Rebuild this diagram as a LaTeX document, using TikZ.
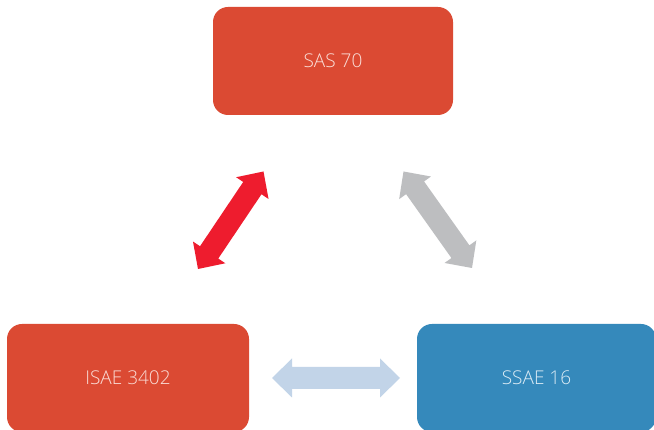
\documentclass[tikz,border=0pt]{standalone}
\usepackage{fontspec}
\IfFontExistsTF{Open Sans Light}{\setmainfont{Open Sans Light}}{\setmainfont{Open Sans}}
\usetikzlibrary{calc}
\definecolor{boxred}{HTML}{DB4A33}
\definecolor{boxblue}{HTML}{3589BB}
\definecolor{txtred}{HTML}{FADCD6}
\definecolor{txtblue}{HTML}{DCECF5}
\definecolor{arrred}{HTML}{EE1C2E}
\definecolor{arrgray}{HTML}{BDBEC0}
\definecolor{arrblue}{HTML}{C2D4E8}
\tikzset{
  card/.style={rounded corners=15pt, inner sep=0pt, font=\fontsize{19}{23}\selectfont},
  redcard/.style={card, fill=boxred, text=txtred},
  bluecard/.style={card, fill=boxblue, text=txtblue}
}
\newcommand\myDblArrow[3]{%
  \coordinate (#1-h) at ($(#1)!20pt!(#2)$);
  \coordinate (#2-h) at ($(#2)!20pt!(#1)$);
  \fill[#3] (#1)
    -- ($(#1-h)!19.5pt!90:(#2)$) -- ($(#1-h)!11pt!90:(#2)$)
    -- ($(#2-h)!11pt!-90:(#1)$) -- ($(#2-h)!19.5pt!-90:(#1)$)
    -- (#2)
    -- ($(#2-h)!19.5pt!90:(#1)$) -- ($(#2-h)!11pt!90:(#1)$)
    -- ($(#1-h)!11pt!-90:(#2)$) -- ($(#1-h)!19.5pt!-90:(#2)$)
    -- cycle;}
\begin{document}
\begin{tikzpicture}[x=1pt,y=1pt]
  \clip (0,0) rectangle (654,430);
  \fill[white] (0,0) rectangle (654,430);
  \node[redcard, minimum width=240pt, minimum height=108pt] (sas) at (333,369) {SAS 70};
  \node[redcard, minimum width=242pt, minimum height=108pt] (isae) at (128,52) {ISAE 3402};
  \node[bluecard, minimum width=239pt, minimum height=108pt] (ssae) at (536.5,52) {SSAE 16};
  \coordinate (rA) at (198,161);
  \coordinate (rB) at (263.5,258.5);
  \coordinate (gA) at (403.5,258.5);
  \coordinate (gB) at (472,162);
  \coordinate (bA) at (272,52);
  \coordinate (bB) at (400,52);
  \myDblArrow{rA}{rB}{arrred}
  \myDblArrow{gA}{gB}{arrgray}
  \myDblArrow{bA}{bB}{arrblue}
\end{tikzpicture}
\end{document}
